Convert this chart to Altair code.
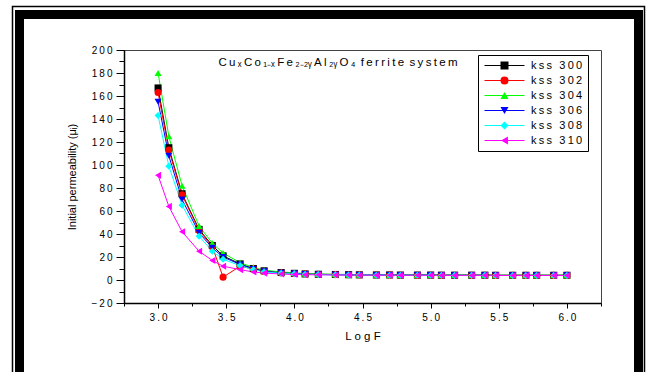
import altair as alt
import pandas as pd

# ---------------- data ----------------
log_f = [3.0, 3.079, 3.176, 3.301, 3.398, 3.477, 3.602, 3.699, 3.778, 3.903,
         4.0, 4.079, 4.176, 4.301, 4.398, 4.477, 4.602, 4.699, 4.778, 4.903,
         5.0, 5.079, 5.176, 5.301, 5.398, 5.477, 5.602, 5.699, 5.778, 5.903, 6.0]

series_names = ["kss 300", "kss 302", "kss 304", "kss 306", "kss 308", "kss 310"]

kss300 = [167, 115, 75, 44, 30, 21, 14, 10, 8, 6.5,
          5.8, 5.3, 5.0, 4.8, 4.6, 4.5, 4.4, 4.4, 4.3, 4.3,
          4.3, 4.2, 4.2, 4.2, 4.2, 4.1, 4.1, 4.1, 4.1, 4.1, 4.1]
kss302 = [163, 113, 74, 43, 29, 2.5, 12, 9.5, 7.5, 6.2,
          5.6, 5.2, 4.9, 4.7, 4.5, 4.4, 4.3, 4.3, 4.2, 4.2,
          4.2, 4.1, 4.1, 4.1, 4.1, 4.0, 4.0, 4.0, 4.0, 4.0, 4.0]
kss304 = [180, 125, 82, 47, 32, 23.5, 15, 11, 8.5, 7,
          6.2, 5.6, 5.2, 5.0, 4.8, 4.7, 4.6, 4.5, 4.4, 4.4,
          4.4, 4.3, 4.3, 4.3, 4.3, 4.2, 4.2, 4.2, 4.2, 4.2, 4.2]
kss306 = [155, 108, 70, 41, 28, 20, 13.5, 9.5, 7.5, 6.2,
          5.6, 5.1, 4.8, 4.6, 4.5, 4.4, 4.3, 4.3, 4.2, 4.2,
          4.2, 4.1, 4.1, 4.1, 4.1, 4.0, 4.0, 4.0, 4.0, 4.0, 4.0]
kss308 = [143, 99, 65, 38, 25, 18, 12.5, 9, 7, 5.8,
          5.3, 4.9, 4.7, 4.5, 4.4, 4.3, 4.2, 4.2, 4.1, 4.1,
          4.1, 4.0, 4.0, 4.0, 4.0, 3.9, 3.9, 3.9, 3.9, 3.9, 3.9]
kss310 = [91, 64, 42, 25, 17, 12, 9, 7, 6, 5.2,
          4.8, 4.6, 4.5, 4.4, 4.3, 4.2, 4.2, 4.1, 4.1, 4.1,
          4.1, 4.0, 4.0, 4.0, 4.0, 3.9, 3.9, 3.9, 3.9, 3.9, 3.9]

series_values = [kss300, kss302, kss304, kss306, kss308, kss310]
colors = ["#000000", "#ff0000", "#00ff00", "#0000ff", "#00ffff", "#ff00ff"]
shapes = ["square", "circle", "triangle-up", "triangle-down", "diamond", "triangle-left"]

y_major = [-20, 0, 20, 40, 60, 80, 100, 120, 140, 160, 180, 200]
y_minor = [-20, -10, 0, 10, 20, 30, 40, 50, 60, 70, 80, 90, 100, 110, 120,
           130, 140, 150, 160, 170, 180, 190, 200]
x_major = [3.0, 3.5, 4.0, 4.5, 5.0, 5.5, 6.0]
x_minor = [2.75, 3.0, 3.25, 3.5, 3.75, 4.0, 4.25, 4.5, 4.75, 5.0, 5.25,
           5.5, 5.75, 6.0, 6.25]

SP = "\u2009"
title_tokens = ["C", "u", "\u2093", "C", "o", "\u2081\u208b\u2093", "F", "e",
                "\u2082\u208b\u2082\u1d67", "A", "l", "\u2082\u1d67", "O", "\u2084",
                " f", "e", "r", "r", "i", "t", "e", " s", "y", "s", "t", "e", "m"]
title_text = SP.join(title_tokens)

rows = []
for name, vals in zip(series_names, series_values):
    for xv, yv in zip(log_f, vals):
        rows.append({"logf": xv, "mu": yv, "series": name})
df = pd.DataFrame(rows)

FONT = "Liberation Sans"
spaced = "join(split(datum.label, ''), '" + SP + "')"

x_scale = alt.Scale(domain=[2.75, 6.25], nice=False, zero=False)
y_scale = alt.Scale(domain=[-20, 200], nice=False, zero=False)
stroke_scale = alt.Scale(domain=series_names, range=colors)
# reversed domain/range (same mapping) keeps the marker legend apart from the line legend
color_scale = alt.Scale(domain=series_names[::-1], range=colors[::-1])
shape_scale = alt.Scale(domain=series_names[::-1], range=shapes[::-1])

x_main = alt.X("logf:Q", scale=x_scale,
               axis=alt.Axis(values=x_major, title="L o g  F", orient="bottom",
                             format=".1f", labelExpr=spaced, grid=False,
                             tickSize=5, labelPadding=4, titlePadding=8,
                             labelFont=FONT, labelFontSize=10, titleFont=FONT,
                             titleFontSize=11.5, titleFontWeight="normal",
                             domainColor="#000", domainWidth=1.5, tickColor="#000",
                             labelColor="#000", titleColor="#000"))
y_main = alt.Y("mu:Q", scale=y_scale,
               axis=alt.Axis(values=y_major, title="Initial permeability (\u03bc\u1d62)",
                             orient="left", format="d", labelExpr=spaced, grid=False,
                             tickSize=8, labelPadding=4, titlePadding=14,
                             labelFont=FONT, labelFontSize=10, titleFont=FONT,
                             titleFontSize=11, titleFontWeight="normal",
                             domainColor="#000", domainWidth=1.5, tickColor="#000",
                             labelColor="#000", titleColor="#000"))
x_min = alt.X("logf:Q", scale=x_scale,
              axis=alt.Axis(values=x_minor, title=None, orient="bottom", labels=False,
                            grid=False, tickSize=3, domain=False, tickColor="#000"))
y_min = alt.Y("mu:Q", scale=y_scale,
              axis=alt.Axis(values=y_minor, title=None, orient="left", labels=False,
                            grid=False, tickSize=5, domain=False, tickColor="#000"))

label_expr_box = spaced + " + '\u2003\u2009'"
# legend A: box, line symbols and labels (from the line layer)
legend_lines = alt.Legend(title=None, orient="none", legendX=354, legendY=5,
                          strokeColor="#000", fillColor="#fff", padding=5,
                          symbolType="M-5,0H5", symbolSize=64, symbolStrokeWidth=1,
                          symbolOffset=16, labelOffset=21, rowPadding=3,
                          labelFont=FONT, labelFontSize=11, labelColor="#000",
                          labelExpr=label_expr_box, zindex=1)
# legend B: the coloured markers drawn on top of the lines (from the point layer)
legend_marks = alt.Legend(title=None, orient="none", legendX=370, legendY=5,
                          padding=5, values=series_names,
                          symbolSize=64, symbolStrokeWidth=0, symbolOpacity=1,
                          labelOffset=21, rowPadding=3, labelFont=FONT,
                          labelFontSize=11, labelOpacity=0, labelExpr=label_expr_box,
                          zindex=2)

lines = alt.Chart(df).mark_line(strokeWidth=1, clip=True).encode(
    x=x_main, y=y_main,
    stroke=alt.Stroke("series:N", scale=stroke_scale, legend=legend_lines),
    detail="series:N",
)

points = alt.Chart(df).mark_point(filled=True, size=50, opacity=1, clip=True).encode(
    x=x_min, y=y_min,
    color=alt.Color("series:N", scale=color_scale, legend=legend_marks),
    shape=alt.Shape("series:N", scale=shape_scale, legend=legend_marks),
    order="series:N",
)

dummy = pd.DataFrame({"k": [0]})
frame_thick = alt.Chart(dummy).mark_rect(fillOpacity=0, stroke="#000", strokeWidth=9).encode(
    x=alt.value(-104.5), x2=alt.value(514.5), y=alt.value(-35.5), y2=alt.value(328))
frame_thin = alt.Chart(dummy).mark_rect(fillOpacity=0, stroke="#000", strokeWidth=1.5).encode(
    x=alt.value(-111.5), x2=alt.value(520.5), y=alt.value(-43.5), y2=alt.value(336))

title = alt.Chart(dummy).mark_text(font=FONT, fontSize=11.5, align="center",
                                   baseline="middle", color="#000").encode(
    x=alt.value(214), y=alt.value(13), text=alt.value(title_text))

chart = alt.layer(frame_thin, frame_thick, lines, points, title).resolve_axis(
    x="independent", y="independent"
).properties(
    width=477, height=253,
    autosize=alt.AutoSizeParams(type="none"),
    padding={"left": 124, "top": 50, "right": 46, "bottom": 69},
    background="#ffffff",
).configure_view(stroke="#444", strokeWidth=1)

chart.save("out.html", embed_options={"renderer": "svg", "actions": False})
